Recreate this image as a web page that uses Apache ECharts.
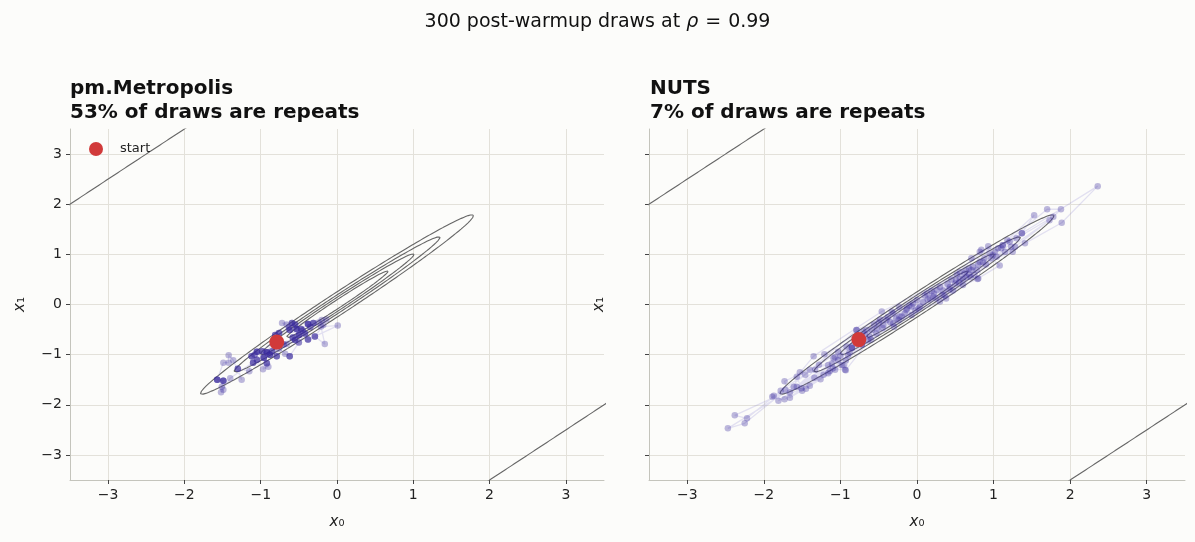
<!DOCTYPE html>
<html>
<head>
<meta charset="utf-8">
<script src="https://cdn.jsdelivr.net/npm/echarts@6/dist/echarts.min.js"></script>
<style>
  html, body { margin: 0; padding: 0; background: #fcfcfa; }
  #chart { width: 1195px; height: 542px; }
</style>
</head>
<body>
<div id="chart"></div>
<script>
// target correlation and the density contours (Mahalanobis radii)
const rho = 0.99;
const contourR = [1.79, 1.35, 1.01, 0.67, 38.9];
const tickValues = [-3, -2, -1, 0, 1, 2, 3];

const metroStart = [-0.79, -0.75];
const nutsStart = [-0.76, -0.70];

// Metropolis: accepted states in chain order, with how many draws stayed there
const metroX = [-0.80, -0.66, -0.55, -0.50, -0.62, -0.53, -0.59, -0.72, -0.66, -0.47,
  -0.38, -0.31, -0.20, -0.18, -0.29, -0.16, -0.21, 0.01, -0.38, -0.42,
  -0.50, -0.62, -0.68, -0.76, -0.79, -0.81, -0.76, -0.92, -0.96, -1.05,
  -0.92, -0.97, -0.90, -1.10, -1.12, -1.15, -1.30, -1.25, -1.36, -1.42,
  -1.42, -1.49, -1.57, -1.49, -1.51, -1.49, -1.52, -1.40, -1.05, -0.88,
  -0.85, -0.70, -0.58, -0.45, -0.35, -0.24, -0.14, -0.55, -0.63, -0.98, -1.08];
const metroY = [-0.76, -0.79, -0.71, -0.61, -0.51, -0.49, -0.37, -0.37, -0.40, -0.49,
  -0.39, -0.37, -0.31, -0.41, -0.64, -0.79, -0.44, -0.42, -0.70, -0.58,
  -0.76, -1.03, -0.98, -0.88, -1.03, -0.61, -0.57, -0.95, -1.06, -0.94,
  -1.17, -1.29, -1.24, -1.16, -1.03, -1.33, -1.28, -1.50, -1.11, -1.01,
  -1.16, -1.16, -1.50, -1.52, -1.64, -1.70, -1.75, -1.47, -1.10, -1.00,
  -0.93, -0.80, -0.66, -0.52, -0.45, -0.36, -0.30, -0.40, -0.46, -0.93, -1.00];
const metroRepeats = [2, 1, 3, 4, 3, 4, 3, 1, 1, 3,
  4, 3, 1, 1, 3, 1, 1, 1, 3, 3,
  2, 3, 1, 1, 3, 3, 3, 5, 4, 4,
  3, 1, 1, 3, 3, 1, 3, 1, 1, 1,
  1, 1, 4, 4, 1, 1, 1, 1, 3, 4,
  3, 2, 3, 2, 2, 1, 1, 3, 2, 3, 2];

// NUTS: draws in chain order (repeats appear as consecutive equal draws)
const nutsX = [-0.72, -0.72, -0.92, -0.62, 0.22, 0.95, 0.73, -0.23, -1.16, -1.81, -1.16,
  -0.59, 0.13, 0.82, 1.37, 1.53, 1.06, 0.50, -0.44, -1.11, -2.47, -2.25,
  -1.46, -0.79, 0.00, 0.51, 1.37, 2.36, 1.89, 1.41, 0.71, -0.31, -1.03, -1.57,
  -1.33, -0.53, 0.21, 0.82, 1.12, 1.70, 1.88, 1.78, 1.30, 0.75, -0.35, -1.26,
  -1.89, -1.73, -1.40, -0.64, 0.40, 0.84, 1.08, 0.79, -0.40, -1.07, -1.03,
  -0.75, 0.30, 1.23, 1.73, 1.28, 0.78, -0.14, -0.93, -1.53, -1.61, -1.14,
  -0.52, 0.38, 1.04, 0.99, 0.56, -0.07, -0.85, -0.90, -0.70, 0.17, 0.86,
  0.80, 0.64, -0.46, -1.35, -1.57, -1.51, -1.34, -0.66, 0.47, 1.10, 1.25,
  0.56, -0.23, -1.21, -0.96, -1.66, -1.73, -1.40, -0.56, 0.26, 0.93, 0.80,
  0.60, -0.13, -1.09, -0.98, -1.72, -1.87, -1.66, -1.50, -0.48, 0.30, 0.97,
  0.71, 0.68, -0.24, -1.10, -1.22, -2.38, -2.22, -1.78, -1.28, -0.05, 0.04,
  0.02, -0.07, -0.16, 0.14, 0.33, 0.36, 0.60, 0.64, -0.20, -0.31, -0.33,
  -0.93, -0.85, -0.85, -1.45, -1.07, -0.94, -0.79, -0.75, 1.21, 1.12, 0.43,
  -0.60, -0.45, -0.27, -0.10, 0.08, 0.19, 0.34, 0.45, 0.55, 0.68, 0.88, 1.15,
  -0.68, -0.38, -0.02, 0.25, 0.42, 0.62, 0.90, -0.88, -1.00, -0.50, 0.10,
  0.52, 1.02, 1.18, -0.30, 0.70];
const nutsY = [-0.80, -0.80, -0.84, -0.64, 0.22, 1.02, 0.75, -0.24, -1.37, -1.92, -1.21,
  -0.51, 0.22, 0.85, 1.42, 1.78, 1.12, 0.42, -0.41, -1.18, -2.47, -2.37,
  -1.40, -0.51, 0.09, 0.48, 1.42, 2.36, 1.63, 1.22, 0.69, -0.18, -1.11, -1.64,
  -1.30, -0.58, 0.16, 1.05, 1.18, 1.90, 1.90, 1.75, 1.32, 0.59, -0.35, -1.49,
  -1.84, -1.89, -1.62, -0.72, 0.41, 1.09, 0.78, 0.51, -0.31, -1.05, -0.94,
  -0.66, 0.06, 1.15, 1.68, 1.15, 0.69, -0.11, -1.11, -1.35, -1.64, -1.33,
  -0.48, 0.12, 0.95, 0.98, 0.52, -0.04, -0.84, -1.01, -0.54, 0.12, 0.85,
  0.80, 0.68, -0.14, -1.03, -1.44, -1.67, -1.46, -0.51, 0.28, 1.12, 1.05,
  0.65, -0.05, -0.99, -1.21, -1.86, -1.53, -1.30, -0.40, 0.29, 1.16, 0.52,
  0.39, -0.08, -1.07, -1.21, -1.70, -1.82, -1.75, -1.72, -0.30, 0.35, 0.92,
  0.92, 0.60, -0.31, -1.27, -1.40, -2.21, -2.27, -1.72, -1.20, 0.02, -0.04,
  -0.08, -0.21, -0.18, 0.10, 0.19, 0.18, 0.51, 0.55, -0.24, -0.38, -0.14,
  -1.31, -0.87, -0.87, -1.68, -1.30, -1.30, -0.51, -0.75, 1.25, 1.18, 0.35,
  -0.70, -0.47, -0.28, -0.02, 0.05, 0.27, 0.28, 0.50, 0.44, 0.72, 0.92, 1.05,
  -0.60, -0.25, -0.12, 0.12, 0.30, 0.62, 0.80, -0.95, -1.02, -0.36, 0.18,
  0.60, 1.05, 1.28, -0.45, 0.55];

const purple = '#3b2a9e';
const font = 'DejaVu Sans';

function ellipse(r) {
  // contour of the bivariate normal with unit variances and correlation rho
  const n = r > 5 ? 8000 : 300;
  const a = r * Math.sqrt(1 + rho), b = r * Math.sqrt(1 - rho);
  const pts = [];
  for (let i = 0; i <= n; i++) {
    const t = 2 * Math.PI * i / n;
    const u = a * Math.cos(t), v = b * Math.sin(t);
    pts.push([(u - v) / Math.SQRT2, (u + v) / Math.SQRT2]);
  }
  return pts;
}

function metroDraws() {
  const out = [];
  metroX.forEach((x, i) => {
    for (let k = 0; k < metroRepeats[i]; k++) out.push([x, metroY[i]]);
  });
  return out;
}

function panelSeries(gi, draws, start) {
  const s = [];
  contourR.forEach(r => s.push({
    type: 'line', xAxisIndex: gi, yAxisIndex: gi, data: ellipse(r),
    symbol: 'none', silent: true, clip: true, z: 2,
    lineStyle: { color: '#666666', width: 1.1 }
  }));
  s.push({
    type: 'line', xAxisIndex: gi, yAxisIndex: gi, data: draws,
    symbol: 'none', silent: true, clip: true, z: 3,
    lineStyle: { color: '#7d72cc', width: 1.3, opacity: 0.2 }
  });
  s.push({
    type: 'scatter', xAxisIndex: gi, yAxisIndex: gi, data: draws,
    symbolSize: 6.5, silent: true, z: 4,
    itemStyle: { color: purple, opacity: 0.33 }
  });
  s.push({
    name: 'start', type: 'scatter', xAxisIndex: gi, yAxisIndex: gi, data: [start],
    symbolSize: 15, silent: true, z: 5,
    itemStyle: { color: '#d13a3a', opacity: 1 }
  });
  return s;
}

function axisCommon(gi, isY, showLabels) {
  return {
    type: 'value', gridIndex: gi, min: -3.5, max: 3.5,
    name: isY ? '{i|x}₁' : '{i|x}₀',
    nameLocation: 'middle', nameGap: isY ? 42 : 35, nameRotate: isY ? 90 : 0,
    nameTextStyle: { fontFamily: font, fontSize: 15, color: '#222',
      rich: { i: { fontFamily: font, fontStyle: 'italic', fontSize: 15, color: '#222' } } },
    axisLine: { show: true, onZero: false, lineStyle: { color: '#c4c4bc', width: 1 } },
    axisTick: { show: true, length: 4, customValues: tickValues, lineStyle: { color: '#444' } },
    axisLabel: { show: showLabels, customValues: tickValues, margin: 8, fontFamily: font,
      fontSize: 14, color: '#222', formatter: v => String(v).replace('-', '\u2212') },
    splitLine: { show: true, lineStyle: { color: '#e3e1da', width: 1 } }
  };
}

const chart = echarts.init(document.getElementById('chart'), null, { renderer: 'canvas' });
chart.setOption({
  backgroundColor: '#fcfcfa',
  animation: false,
  title: [
    { text: '300 post-warmup draws at {i|ρ}{e|=}0.99', left: 'center', top: 8,
      textStyle: { fontFamily: font, fontSize: 19, fontWeight: 'normal', color: '#111',
        rich: {
          i: { fontFamily: font, fontStyle: 'italic', fontSize: 19, color: '#111' },
          e: { fontFamily: font, fontSize: 19, color: '#111', padding: [0, 7, 0, 7] }
        } } },
    { text: 'pm.Metropolis\n53% of draws are repeats', left: 65, top: 72,
      textStyle: { fontFamily: font, fontSize: 20, fontWeight: 'bold', color: '#111', lineHeight: 24 } },
    { text: 'NUTS\n7% of draws are repeats', left: 645, top: 72,
      textStyle: { fontFamily: font, fontSize: 20, fontWeight: 'bold', color: '#111', lineHeight: 24 } }
  ],
  legend: {
    data: ['start'], left: 84, top: 137, icon: 'circle', itemWidth: 14, itemHeight: 14,
    itemGap: 0, selectedMode: false,
    textStyle: { fontFamily: font, fontSize: 13, color: '#222', padding: [0, 0, 0, 12] }
  },
  grid: [
    { left: 70, top: 129, width: 534, height: 351 },
    { left: 649, top: 129, width: 536, height: 351 }
  ],
  xAxis: [axisCommon(0, false, true), axisCommon(1, false, true)],
  yAxis: [axisCommon(0, true, true), axisCommon(1, true, false)],
  series: [
    ...panelSeries(0, metroDraws(), metroStart),
    ...panelSeries(1, nutsX.map((x, i) => [x, nutsY[i]]), nutsStart)
  ]
});
</script>
</body>
</html>
